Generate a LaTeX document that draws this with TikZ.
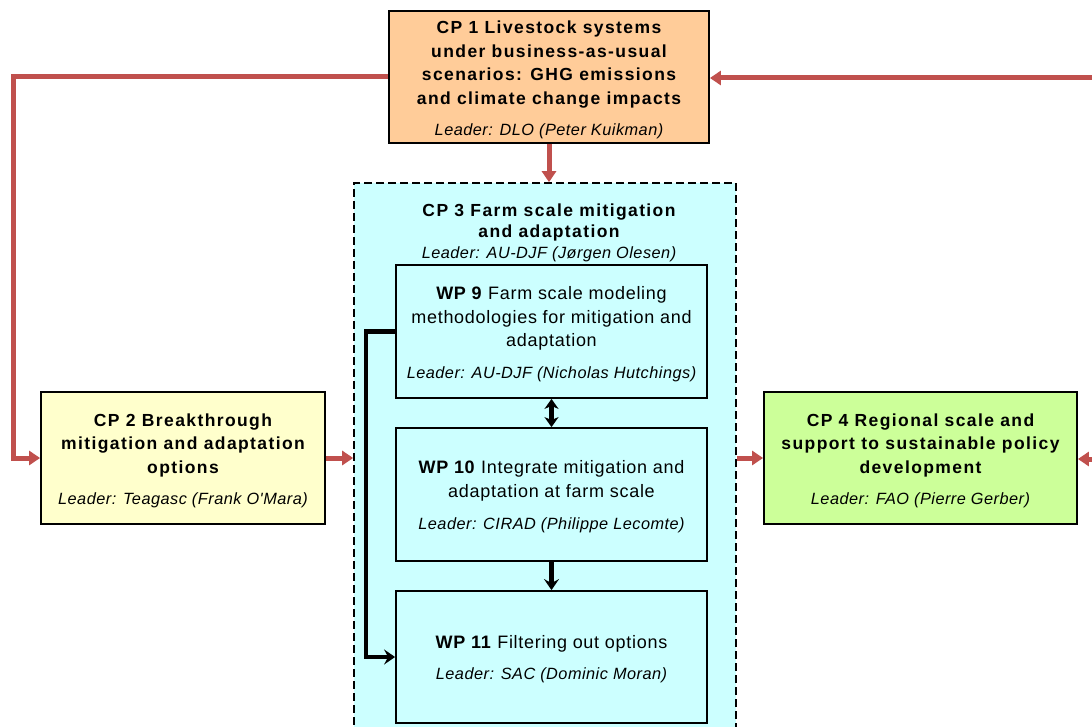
\documentclass[tikz,border=0pt]{standalone}
\usepackage{fontspec}
\setmainfont{Liberation Sans}
\newfontfamily\tfam[LetterSpace=8]{Liberation Sans}
\newfontfamily\lfam[LetterSpace=3]{Liberation Sans}
\newfontfamily\wfam[LetterSpace=4]{Liberation Sans}
\usetikzlibrary{arrows.meta}
\definecolor{cpred}{HTML}{C0504D}
\definecolor{cporange}{HTML}{FFCC99}
\definecolor{cpyellow}{HTML}{FFFFCC}
\definecolor{cpgreen}{HTML}{CCFF99}
\definecolor{cpcyan}{HTML}{CCFFFF}
\newcommand\ttl{\tfam\bfseries\fontsize{17.5}{23.5}\selectfont}
\newcommand\ldr{\lfam\itshape\fontsize{16.3}{23.5}\selectfont}
\newcommand\wpt{\wfam\fontsize{18}{23.5}\selectfont}
\newcommand\up{\rule{0pt}{18pt}}
\begin{document}
\begin{tikzpicture}[x=1pt,y=-1pt,
  box/.style={draw=black, line width=1.8pt, inner sep=0pt, align=center,
    font=\fontsize{17}{23.5}\selectfont},
  redarrow/.style={draw=cpred, line width=5pt, -{Triangle[width=14pt,length=11pt]}},
  blkline/.style={draw=black, line width=4.5pt},
  blkarrow/.style={blkline, -{Stealth[width=15pt,length=11pt,inset=4pt]}},
  blkdouble/.style={blkline, {Stealth[width=14pt,length=10pt,inset=3pt]}-{Stealth[width=14pt,length=10pt,inset=3pt]}}]
\useasboundingbox (0,0) rectangle (1092,727);
% CP3 container
\node[draw=black, dash pattern=on 8pt off 4pt, line width=1.6pt, fill=cpcyan, inner sep=0pt,
  minimum width=382pt, minimum height=562pt] (cp3) at (545,464) {};
\node[align=center, inner sep=0pt, font=\fontsize{17}{21}\selectfont] (cp3t) at (549,233)
  {\ttl CP 3 Farm scale mitigation\\ \ttl and adaptation\\ \ldr Leader: AU-DJF (Jørgen Olesen)};
% CP1
\node[box, fill=cporange, minimum width=320pt, minimum height=132pt] (cp1) at (549,77)
  {\up\ttl CP 1 Livestock systems\\ \ttl under business-as-usual\\ \ttl scenarios: GHG emissions\\ \ttl and climate change impacts\\[7.5pt] \ldr Leader: DLO (Peter Kuikman)};
% CP2
\node[box, fill=cpyellow, minimum width=284pt, minimum height=132pt] (cp2) at (183,458)
  {\up\ttl CP 2 Breakthrough\\ \ttl mitigation and adaptation\\ \ttl options\\[7.5pt] \ldr Leader: Teagasc (Frank O'Mara)};
% CP4
\node[box, fill=cpgreen, minimum width=313pt, minimum height=132pt] (cp4) at (920.5,458)
  {\up\ttl CP 4 Regional scale and\\ \ttl support to sustainable policy\\ \ttl development\\[7.5pt] \ldr Leader: FAO (Pierre Gerber)};
% WPs
\node[box, fill=cpcyan, minimum width=311pt, minimum height=133pt] (wp9) at (551.5,331.5)
  {\up\wpt\textbf{WP 9} Farm scale modeling\\ \wpt methodologies for mitigation and\\ \wpt adaptation\\[8pt] \ldr Leader: AU-DJF (Nicholas Hutchings)};
\node[box, fill=cpcyan, minimum width=311pt, minimum height=133pt] (wp10) at (551.5,494.5)
  {\up\wpt\textbf{WP 10} Integrate mitigation and\\ \wpt adaptation at farm scale\\[9pt] \ldr Leader: CIRAD (Philippe Lecomte)};
\node[box, fill=cpcyan, minimum width=311pt, minimum height=132pt] (wp11) at (551.5,657)
  {\up\wpt\textbf{WP 11} Filtering out options\\[7.5pt] \ldr Leader: SAC (Dominic Moran)};
% red connectors
\coordinate (lc) at (13,458);
\coordinate (rin) at (1100,78);
\coordinate (rin2) at (1100,459);
\draw[redarrow] (cp1.west) -| (lc) -- (cp2.west);
\draw[redarrow] (rin) -- (rin -| cp1.east);
\draw[redarrow] (cp1.south) -- (cp1.south |- cp3.north);
\draw[redarrow] (cp2.east) -- (cp2.east -| cp3.west);
\draw[redarrow] (cp3.east |- cp4.west) -- (cp4.west);
\draw[redarrow] (rin2) -- (rin2 -| cp4.east);
% black connectors
\draw[blkdouble] (wp9.south) -- (wp10.north);
\draw[blkarrow] (wp10.south) -- (wp11.north);
\draw[blkarrow] (wp9.west) -- ++(-29,0) |- (wp11.west);
\end{tikzpicture}
\end{document}
